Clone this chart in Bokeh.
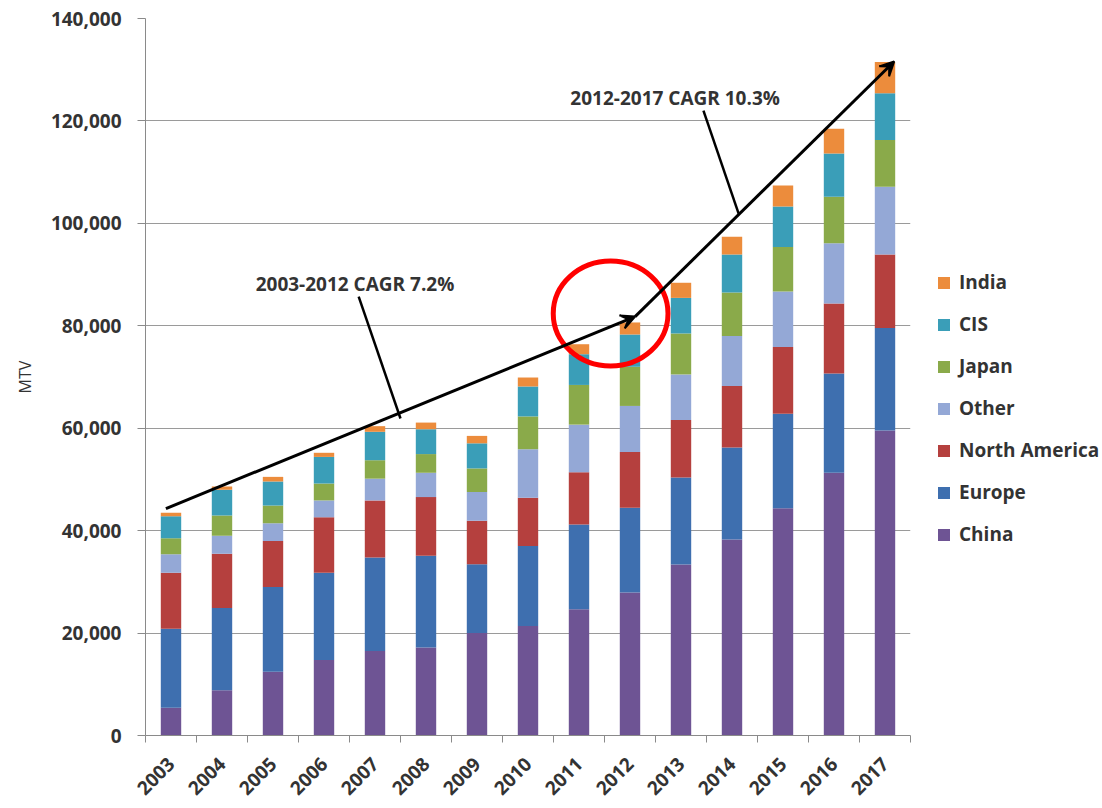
from bokeh.plotting import figure
from bokeh.models import (ColumnDataSource, FixedTicker, NumeralTickFormatter, Legend,
                          LegendItem, Arrow, VeeHead)
from bokeh.core.properties import value
from bokeh.embed import file_html
from bokeh.resources import INLINE
import math

# ---------------- data ----------------
years = [2003, 2004, 2005, 2006, 2007, 2008, 2009, 2010, 2011, 2012, 2013, 2014, 2015, 2016, 2017]
china = [5400, 8850, 12450, 14750, 16500, 17200, 20000, 21400, 24650, 27900, 33400, 38250, 44350, 51300, 59550]
europe = [15450, 16050, 16550, 17050, 18250, 17900, 13450, 15600, 16550, 16550, 17000, 18000, 18450, 19400, 20000]
north_america = [10950, 10600, 9000, 10800, 11150, 11450, 8500, 9400, 10200, 10900, 11200, 12000, 13050, 13650, 14350]
other = [3600, 3500, 3450, 3300, 4250, 4750, 5600, 9500, 9300, 9000, 8900, 9750, 10850, 11750, 13250]
japan = [3100, 3950, 3450, 3300, 3600, 3650, 4600, 6400, 7750, 7650, 8000, 8500, 8700, 9100, 9150]
cis = [4300, 5050, 4700, 5200, 5550, 4850, 4900, 5850, 6000, 6300, 6950, 7400, 7900, 8450, 9100]
india = [700, 600, 900, 800, 1100, 1300, 1450, 1750, 1950, 2350, 2950, 3500, 4100, 4800, 6100]

series_keys = ["China", "Europe", "North America", "Other", "Japan", "CIS", "India"]
series_vals = [china, europe, north_america, other, japan, cis, india]
colors = ["#6E5494", "#3E6FAF", "#B5403E", "#94A8D6", "#8AAA4A", "#3A9EB8", "#EC8C3C"]

y_ticks = [0, 20000, 40000, 60000, 80000, 100000, 120000, 140000]

# annotation positions (x in years, y in MTV)
arrow1 = (2002.9, 44300, 2012.1, 81800)
arrow2 = (2012.1, 81800, 2017.18, 131600)
pointer1 = (2006.68, 85700, 2007.5, 61900)
pointer2 = (2013.44, 122000, 2014.13, 101900)
label1 = (2004.66, 88100, "2003-2012 CAGR 7.2%")
label2 = (2010.83, 124400, "2012-2017 CAGR 10.3%")
circle = (2011.62, 82400, 2.25, 20500)

# ---------------- figure ----------------
FONT = "Open Sans"
TXT = "#333333"

data = {"year": years}
for k, v in zip(series_keys, series_vals):
    data[k] = v
src = ColumnDataSource(data)

p = figure(frame_width=765, frame_height=717, output_backend="svg", toolbar_location=None,
           x_range=(2002.5, 2017.5), y_range=(0, 140000),
           min_border_left=145, min_border_right=0, min_border_top=18, min_border_bottom=40)
p.outline_line_color = None
p.background_fill_color = "white"

renderers = p.vbar_stack(series_keys, x="year", width=0.4, source=src, color=colors,
                         line_color=None)

# axes
p.xaxis.ticker = FixedTicker(ticks=years, minor_ticks=[y - 0.5 for y in years] + [2017.5])
p.xaxis.major_tick_out = 0
p.xaxis.major_tick_in = 0
p.xaxis.minor_tick_out = 7
p.xaxis.minor_tick_in = 0
p.xaxis.minor_tick_line_color = "#8a8a8a"
p.xaxis.axis_line_color = "#8a8a8a"
p.xaxis.major_label_orientation = math.pi / 4
p.xaxis.major_label_text_font = FONT
p.xaxis.major_label_text_font_style = "bold"
p.xaxis.major_label_text_font_size = "19px"
p.xaxis.major_label_text_color = TXT
p.xaxis.major_label_standoff = 18

p.yaxis.ticker = FixedTicker(ticks=y_ticks)
p.yaxis.formatter = NumeralTickFormatter(format="0,0")
p.yaxis.major_tick_out = 8
p.yaxis.major_tick_in = 0
p.yaxis.minor_tick_line_color = None
p.yaxis.axis_line_color = "#8a8a8a"
p.yaxis.major_tick_line_color = "#8a8a8a"
p.yaxis.major_label_text_font = FONT
p.yaxis.major_label_text_font_style = "bold"
p.yaxis.major_label_text_font_size = "19px"
p.yaxis.major_label_text_color = TXT
p.yaxis.major_label_standoff = 16
p.yaxis.axis_label = "MTV"
p.yaxis.axis_label_text_font = FONT
p.yaxis.axis_label_text_font_style = "normal"
p.yaxis.axis_label_text_font_size = "16px"
p.yaxis.axis_label_text_color = TXT
p.yaxis.axis_label_standoff = 12

p.xgrid.grid_line_color = None
p.ygrid.grid_line_color = "#9a9a9a"
p.ygrid.grid_line_width = 1
p.ygrid.ticker = FixedTicker(ticks=y_ticks)

# annotations
for a in (arrow1, arrow2):
    p.add_layout(Arrow(end=VeeHead(size=14, fill_color="black", line_color="black", line_width=2),
                       x_start=a[0], y_start=a[1], x_end=a[2], y_end=a[3],
                       line_color="black", line_width=3))
for pt in (pointer1, pointer2):
    p.line(x=[pt[0], pt[2]], y=[pt[1], pt[3]], line_color="black", line_width=2.5)

for lab in (label1, label2):
    p.text(x=[lab[0]], y=[lab[1]], text=[lab[2]], text_font=value(FONT),
           text_font_style="bold", text_font_size="19px", text_color=TXT,
           text_align="left", text_baseline="middle")

p.ellipse(x=[circle[0]], y=[circle[1]], width=circle[2], height=circle[3],
          fill_color=None, line_color="#FF0000", line_width=5)

# legend
items = [LegendItem(label=k, renderers=[r]) for k, r in zip(series_keys, renderers)][::-1]
legend = Legend(items=items, location=(26, 188), border_line_color=None,
                background_fill_alpha=0, label_text_font=FONT, label_text_font_style="bold",
                label_text_font_size="19px", label_text_color=TXT,
                glyph_width=15, glyph_height=15, label_height=21, spacing=16,
                label_standoff=8, margin=0, padding=0)
p.add_layout(legend, "right")

html = file_html(p, INLINE)
open("out.html", "w").write(html)
